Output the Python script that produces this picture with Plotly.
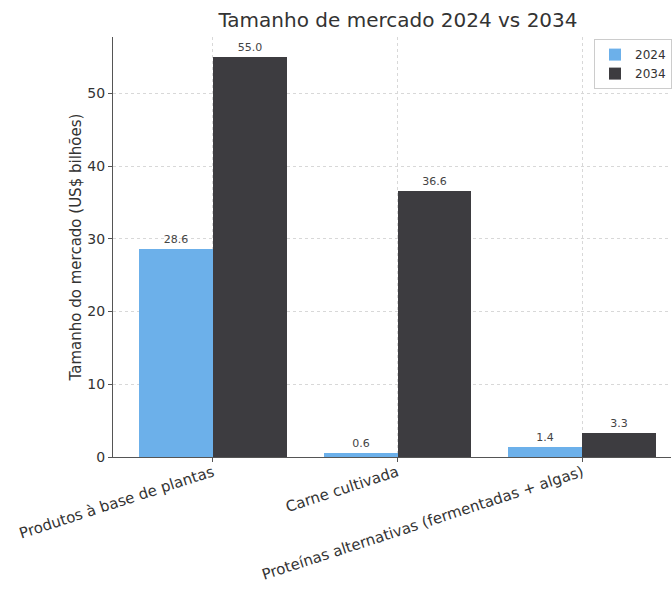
import plotly.graph_objects as go

categories = ["Produtos à base de plantas", "Carne cultivada", "Proteínas alternativas (fermentadas + algas)"]
values_2024 = [28.6, 0.6, 1.4]
values_2034 = [55.0, 36.6, 3.3]
series_names = ["2024", "2034"]
y_ticks = [0, 10, 20, 30, 40, 50]

positions = list(range(len(categories)))
font_family = "DejaVu Sans"

fig = go.Figure()
fig.add_trace(go.Bar(
    x=positions, y=values_2024, name=series_names[0], width=0.4, offset=-0.4,
    marker=dict(color="#6cb0ea", line=dict(width=0)),
    texttemplate="%{y:.1f}", textposition="outside", cliponaxis=False,
    textfont=dict(size=11, color="#444444", family=font_family),
))
fig.add_trace(go.Bar(
    x=positions, y=values_2034, name=series_names[1], width=0.4, offset=0.0,
    marker=dict(color="#3d3c40", line=dict(width=0)),
    texttemplate="%{y:.1f}", textposition="outside", cliponaxis=False,
    textfont=dict(size=11, color="#444444", family=font_family),
))

fig.update_layout(
    width=672, height=589,
    margin=dict(l=113, r=0, t=37, b=132),
    plot_bgcolor="white", paper_bgcolor="white",
    font=dict(family=font_family, color="#333333", size=13),
    title=dict(text="Tamanho de mercado 2024 vs 2034", x=398/672, xanchor="center",
               y=1 - 20/589, yanchor="middle", yref="container",
               font=dict(size=20, color="#333333", family=font_family)),
    showlegend=True,
    legend=dict(x=0.862, xanchor="left", y=0.995, yanchor="top",
                bordercolor="#cccccc", borderwidth=1, bgcolor="white",
                font=dict(size=12, color="#333333"), tracegroupgap=0),
    bargap=0,
)
fig.update_xaxes(
    range=[-0.54, 2.48], tickmode="array", tickvals=positions, ticktext=categories,
    tickangle=-18, showgrid=True, gridcolor="#d8d8d8", griddash="dot", gridwidth=1,
    showline=True, linecolor="#555555", linewidth=1.2, ticks="outside", ticklen=4,
    tickcolor="#555555", tickfont=dict(size=15, color="#333333"), zeroline=False,
    ticklabelstandoff=-4, automargin=False,
)
fig.update_yaxes(
    range=[0, 57.75], tickmode="array", tickvals=y_ticks,
    showgrid=True, gridcolor="#d8d8d8", griddash="dot", gridwidth=1,
    showline=True, linecolor="#555555", linewidth=1.2, ticks="outside", ticklen=4,
    tickcolor="#555555", tickfont=dict(size=14, color="#333333"), zeroline=False,
    title=dict(text="Tamanho do mercado (US$ bilhões)", standoff=2,
               font=dict(size=15, color="#333333")),
    automargin=False,
)

fig.write_html("out.html", config={"displayModeBar": False},
               post_script="document.body.style.margin='0';")
